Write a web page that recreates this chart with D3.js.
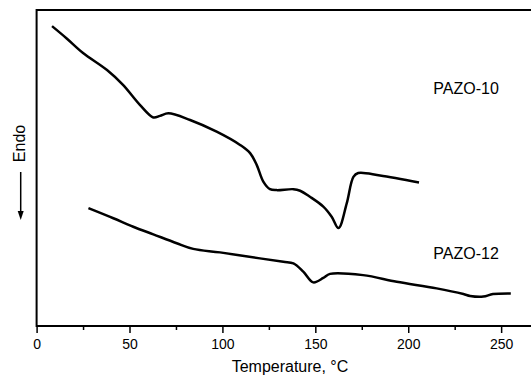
<!DOCTYPE html>
<html>
<head>
<meta charset="utf-8">
<script src="https://cdn.jsdelivr.net/npm/d3@7"></script>
<style>
  body { margin: 0; background: #fff; }
  text { font-family: "Liberation Sans", Arial, Helvetica, sans-serif; fill: #000; }
</style>
</head>
<body>
<div id="chart"></div>
<script>
// DSC traces (heat flow in arbitrary units)
var pazo10T = [8.3, 16.2, 25.0, 37.9, 46.5, 55.7, 62.8, 66.4, 70.9, 82.6, 96.9, 109.5, 114.9, 118.5, 122.0, 125.6, 129.2, 138.2, 141.8, 147.1, 154.3, 158.8, 162.5, 166.9, 170.5, 173.1, 184.8, 205.8];
var pazo10H = [94.9, 91.0, 86.4, 81.0, 76.3, 69.9, 66.0, 66.5, 67.3, 65.2, 61.5, 57.3, 54.7, 50.9, 45.7, 43.3, 43.0, 43.3, 42.8, 40.9, 37.8, 34.6, 31.0, 38.8, 47.2, 48.4, 47.6, 45.4];

var pazo12T = [27.9, 41.3, 52.0, 62.8, 75.4, 84.3, 98.7, 120.2, 132.8, 138.2, 143.5, 148.9, 154.3, 157.9, 175.7, 193.8, 215.3, 229.7, 233.3, 240.4, 245.6, 255.2];
var pazo12H = [37.3, 34.1, 31.4, 29.0, 26.2, 24.4, 23.3, 21.4, 20.3, 19.8, 17.2, 13.8, 15.2, 16.5, 16.1, 14.0, 11.9, 10.1, 9.5, 9.3, 10.1, 10.3];

var majorTicks = [0, 50, 100, 150, 200, 250];
var minorTicks = [25, 75, 125, 175, 225];
var seriesLabels = ["PAZO-10", "PAZO-12"];

var width = 531, height = 378;
var svg = d3.select('#chart').append('svg')
    .attr('width', width)
    .attr('height', height);

var x = d3.scaleLinear().domain([0, 270]).range([36.6, 538.3]);
var y = d3.scaleLinear().domain([0, 100]).range([326, 10]);

// frame: left, top, bottom (right side runs off the page)
svg.append('rect')
    .attr('x', x(0)).attr('y', y(100))
    .attr('width', x(270) - x(0)).attr('height', y(0) - y(100))
    .attr('fill', 'none').attr('stroke', '#000').attr('stroke-width', 2);

var xAxis = svg.append('g')
    .attr('transform', 'translate(0,' + y(0) + ')')
    .call(d3.axisBottom(x).tickValues(majorTicks).tickSize(7).tickPadding(6).tickFormat(d3.format('d')));
xAxis.select('.domain').remove();
xAxis.selectAll('line').attr('stroke', '#000').attr('stroke-width', 1.5);
xAxis.selectAll('text').style('font-size', '14px')
    .style('font-family', '"Liberation Sans", Arial, sans-serif');

var xMinor = svg.append('g')
    .attr('transform', 'translate(0,' + y(0) + ')')
    .call(d3.axisBottom(x).tickValues(minorTicks).tickSize(4).tickFormat(''));
xMinor.select('.domain').remove();
xMinor.selectAll('line').attr('stroke', '#000').attr('stroke-width', 1.5);

svg.append('text')
    .attr('x', 290).attr('y', 372)
    .attr('text-anchor', 'middle')
    .style('font-size', '16px')
    .text('Temperature, \u00B0C');

// y label with arrow
svg.append('text')
    .attr('transform', 'translate(25,143.5)rotate(-90)')
    .attr('text-anchor', 'middle')
    .style('font-size', '16px')
    .text('Endo');
svg.append('line')
    .attr('x1', 20.7).attr('x2', 20.7)
    .attr('y1', 172).attr('y2', 213)
    .attr('stroke', '#000').attr('stroke-width', 1.5);
svg.append('path')
    .attr('d', 'M17.7,211L23.7,211L20.7,220Z')
    .attr('fill', '#000');

var line = d3.line()
    .x(function(d) { return x(d[0]); })
    .y(function(d) { return y(d[1]); })
    .curve(d3.curveCatmullRom.alpha(0.5));

var traces = [d3.zip(pazo10T, pazo10H), d3.zip(pazo12T, pazo12H)];

svg.selectAll('path.trace')
    .data(traces)
    .enter().append('path')
    .attr('class', 'trace')
    .attr('d', line)
    .attr('fill', 'none')
    .attr('stroke', '#000')
    .attr('stroke-width', 2.5)
    .attr('stroke-linejoin', 'round');

// series labels
var labelPos = [[213.5, 73.3], [213.5, 21.1]];
svg.selectAll('text.series')
    .data(seriesLabels)
    .enter().append('text')
    .attr('class', 'series')
    .attr('x', function(d, i) { return x(labelPos[i][0]); })
    .attr('y', function(d, i) { return y(labelPos[i][1]); })
    .style('font-size', '16px')
    .text(function(d) { return d; });
</script>
</body>
</html>
